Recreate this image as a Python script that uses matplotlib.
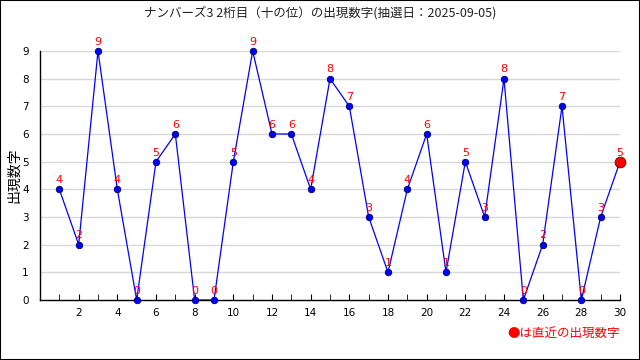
import matplotlib
matplotlib.use("Agg")
import matplotlib.pyplot as plt
from matplotlib.patches import Rectangle

plt.rcParams['font.family'] = ['Noto Sans CJK JP', 'DejaVu Sans']

draws = list(range(1, 31))
digits = [4, 2, 9, 4, 0, 5, 6, 0, 0, 5, 9, 6, 6, 4, 8, 7, 3, 1, 4, 6,
          1, 5, 3, 8, 0, 2, 7, 0, 3, 5]
title = "ナンバーズ3 2桁目（十の位）の出現数字(抽選日：2025-09-05)"
x_ticks = list(range(2, 31, 2))

fig = plt.figure(figsize=(6.4, 3.6), dpi=100)
ax = fig.add_axes([40 / 640, 60 / 360, 580 / 640, 249 / 360])

ax.set_xlim(0, 30)
ax.set_ylim(0, 9)
for v in range(1, 10):
    ax.axhline(v, color='#d8d8d8', lw=1, zorder=0)

ax.plot(draws, digits, color='blue', lw=0.9, zorder=2, clip_on=False)
ax.scatter(draws[:-1], digits[:-1], s=22, color='blue', edgecolor='#000066',
           lw=0.6, zorder=3, clip_on=False)
ax.scatter(draws[-1:], digits[-1:], s=60, color='red', edgecolor='#660000',
           lw=0.6, zorder=4, clip_on=False)

for x, y in zip(draws, digits):
    ax.annotate(str(y), (x, y), xytext=(0, 3), textcoords='offset points',
                ha='center', va='bottom', color='red', fontsize=8,
                family='DejaVu Sans')

ax.set_xticks(x_ticks)
ax.set_xticks(draws, minor=True)
ax.set_yticks(range(0, 10))
ax.tick_params(axis='x', which='both', direction='in', length=4, labelsize=7.5, pad=6)
ax.tick_params(axis='y', length=0, labelsize=7.5, pad=8)
for lab in ax.get_xticklabels() + ax.get_yticklabels():
    lab.set_family('DejaVu Sans')

for s in ['top', 'right']:
    ax.spines[s].set_visible(False)
ax.spines['left'].set_linewidth(1)
ax.spines['bottom'].set_linewidth(1)

fig.text(14 / 640, 1 - 175 / 360, "出現数字", rotation=90, ha='center', va='center',
         fontsize=10)
fig.text(0.5, 1 - 13 / 360, title, ha='center', va='center', fontsize=9, color='#222222')
fig.text(620 / 640, 1 - 333 / 360, "●は直近の出現数字", ha='right', va='center',
         fontsize=9, color='red')

fig.patches.append(Rectangle((0, 0), 1, 1, transform=fig.transFigure, fill=False,
                             edgecolor='black', lw=1.5))

fig.savefig("out.png", dpi=100)
